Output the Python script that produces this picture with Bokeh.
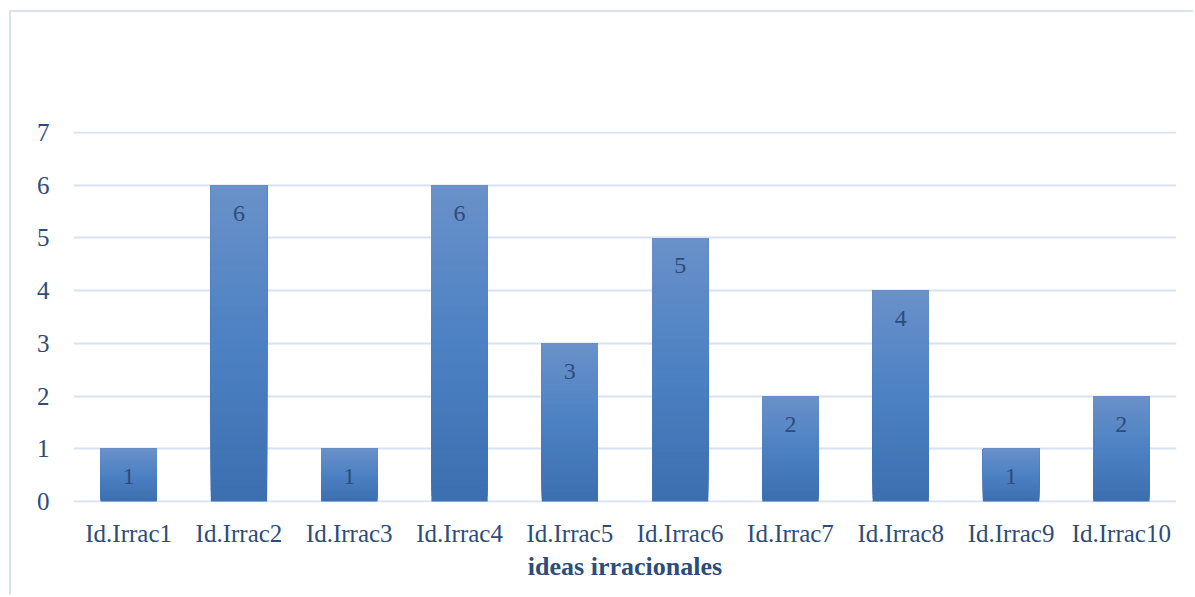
from bokeh.plotting import figure
from bokeh.models import Range1d, FactorRange, ColumnDataSource, SingleIntervalTicker
from bokeh.embed import file_html
from bokeh.resources import INLINE
from bokeh.core.properties import value

categories = ["Id.Irrac1", "Id.Irrac2", "Id.Irrac3", "Id.Irrac4", "Id.Irrac5",
              "Id.Irrac6", "Id.Irrac7", "Id.Irrac8", "Id.Irrac9", "Id.Irrac10"]
counts = [1, 6, 1, 6, 3, 5, 2, 4, 1, 2]
x_title = "ideas irracionales"

FONT = "Liberation Serif"
TXT = "#2d4c7a"

p = figure(width=1184, height=585, output_backend="svg", toolbar_location=None,
           x_range=FactorRange(*categories, range_padding=0),
           y_range=Range1d(-0.02, 7.02),
           min_border_left=62, min_border_right=19, min_border_top=119, min_border_bottom=95,
           background_fill_color="white", border_fill_color="white", outline_line_color=None)
p.margin = (10, 0, 0, 9)
p.styles = {"border-top": "2px solid #d8e2f1", "border-left": "2px solid #d8e2f1"}

p.xgrid.grid_line_color = None
p.ygrid.grid_line_color = "#d8e2f1"
p.ygrid.grid_line_width = 2
p.yaxis.ticker = SingleIntervalTicker(interval=1)

# gradient bars built from overlapping strips
def hex2rgb(h):
    h = h.lstrip("#")
    return tuple(int(h[i:i + 2], 16) for i in (0, 2, 4))

stops = [(0.0, hex2rgb("#3c6fb0")), (0.5, hex2rgb("#4c81c3")), (1.0, hex2rgb("#6a91c9"))]

def color_at(t):
    for (t0, c0), (t1, c1) in zip(stops[:-1], stops[1:]):
        if t0 <= t <= t1:
            f = (t - t0) / (t1 - t0)
            c = [round(a + (b - a) * f) for a, b in zip(c0, c1)]
            return "#%02x%02x%02x" % tuple(c)
    return "#%02x%02x%02x" % stops[-1][1]

N = 60
xs, bots, tops, cols = [], [], [], []
for k in range(N):
    for cat, v in zip(categories, counts):
        xs.append(cat)
        bots.append(v * k / N)
        tops.append(v)
        cols.append(color_at((k + 0.5) / N))

p.vbar(x=xs, bottom=bots, top=tops, width=0.51, fill_color=cols, line_color=None)

src = ColumnDataSource(dict(x=categories, y=counts, t=[str(c) for c in counts]))
p.text(x="x", y="y", text="t", source=src, text_align="center", text_baseline="middle",
       y_offset=28, text_font=value(FONT), text_font_size="24px", text_color=TXT)

for ax in (p.xaxis, p.yaxis):
    ax.axis_line_color = None
    ax.major_tick_line_color = None
    ax.minor_tick_line_color = None
    ax.major_label_text_font = FONT
    ax.major_label_text_font_size = "25px"
    ax.major_label_text_color = TXT

p.yaxis.major_label_standoff = 18
p.xaxis.major_label_standoff = 11
p.xaxis.axis_label = x_title
p.xaxis.axis_label_text_font = FONT
p.xaxis.axis_label_text_font_size = "26px"
p.xaxis.axis_label_text_font_style = "bold"
p.xaxis.axis_label_text_color = TXT
p.xaxis.axis_label_standoff = 2

open("out.html", "w").write(file_html(p, INLINE))
